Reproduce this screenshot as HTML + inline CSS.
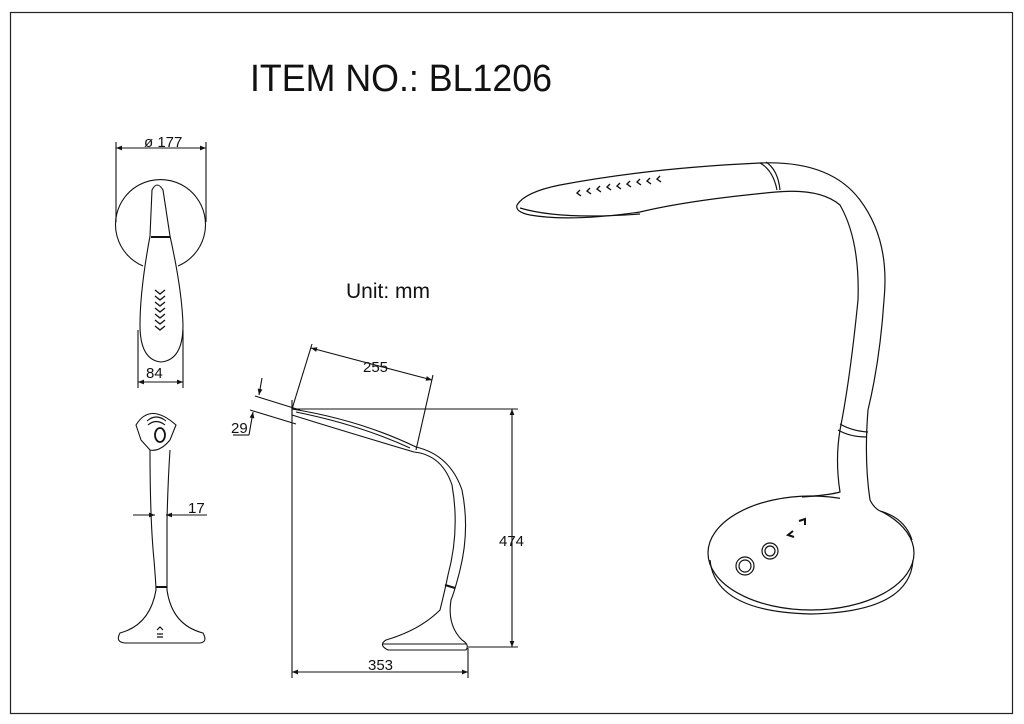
<!DOCTYPE html>
<html><head><meta charset="utf-8"><style>
html,body{margin:0;padding:0;background:#fff;}
svg{display:block;}
text{font-family:"Liberation Sans",sans-serif;fill:#111;}
</style></head><body>
<svg width="1024" height="724" viewBox="0 0 1024 724" xmlns="http://www.w3.org/2000/svg">
<defs>
<marker id="a" viewBox="0 0 10 10" refX="10" refY="5" markerWidth="9" markerHeight="6" orient="auto-start-reverse" markerUnits="userSpaceOnUse"><path d="M0,1 L10,5 L0,9 z" fill="#111"/></marker>
</defs>
<rect x="10.5" y="12.5" width="1002" height="701" fill="none" stroke="#222" stroke-width="1.2"/>
<text x="250" y="91" font-size="38" textLength="302" lengthAdjust="spacingAndGlyphs">ITEM NO.: BL1206</text>
<text x="346" y="298" font-size="21">Unit: mm</text>

<g fill="none" stroke="#111" stroke-width="1.1">
<line x1="116" y1="142" x2="116" y2="222"/><line x1="206" y1="142" x2="206" y2="222"/>
<line x1="116" y1="148" x2="206" y2="148" marker-start="url(#a)" marker-end="url(#a)"/>
<path d="M143,266 A45,45 0 1 1 178,266"/>
<path d="M152,190 Q157,180 163,190 L170,236 Q182,290 183,325 Q183,360 161,362 Q140,360 140,325 Q140,290 150,236 Z"/>
<line x1="151" y1="237" x2="170" y2="237" stroke-width="2"/>
<g stroke-width="1.3">
<path d="M155,290 l5,4 l5,-4 M155,296 l5,4 l5,-4 M155,302 l5,4 l5,-4 M155,308 l5,4 l5,-4 M155,314 l5,4 l5,-4 M155,320 l5,4 l5,-4 M155,326 l5,4 l5,-4"/>
</g>
<line x1="138" y1="330" x2="138" y2="388"/><line x1="183" y1="330" x2="183" y2="388"/>
<line x1="138" y1="382" x2="183" y2="382" marker-start="url(#a)" marker-end="url(#a)"/>

<path d="M136,425 Q150,402 176,425 L170,440 Q160,452 150,450 L141,440 Z"/>
<path d="M147,421 Q156,413 166,421 M148,425 Q156,418 165,425"/>
<ellipse cx="160" cy="435" rx="5" ry="7" stroke-width="1.8"/>
<path d="M150,450 Q150,520 154,560 Q156,585 156,590 Q150,625 120,633 Q115,642 125,643 L200,643 Q208,642 203,633 Q172,625 167,590 Q167,560 167,520 Q168,480 170,450"/>
<line x1="156" y1="587" x2="167" y2="587" stroke-width="2"/>
<path d="M157,630 l3,-3 l3,3 M157,634 h6 M157,637 h6" stroke-width="1.2"/>
<line x1="133" y1="515" x2="155" y2="515" marker-end="url(#a)"/>
<line x1="207" y1="515" x2="166" y2="515" marker-end="url(#a)"/>
<text x="188" y="513" font-size="15" stroke="none">17</text>

<line x1="292" y1="400" x2="292" y2="678"/>
<line x1="292" y1="409" x2="518" y2="409"/>
<line x1="468" y1="647" x2="518" y2="647"/>
<line x1="512" y1="409" x2="512" y2="647" marker-start="url(#a)" marker-end="url(#a)"/>
<line x1="292" y1="672" x2="468" y2="672" marker-start="url(#a)" marker-end="url(#a)"/>
<line x1="468" y1="648" x2="468" y2="678"/>
<line x1="312" y1="344" x2="292" y2="409"/>
<line x1="433" y1="375" x2="416" y2="450"/>
<line x1="311" y1="348" x2="432" y2="380" marker-start="url(#a)" marker-end="url(#a)"/>
<line x1="255" y1="396" x2="300" y2="410"/>
<line x1="250" y1="410" x2="296" y2="424"/>
<line x1="262" y1="378" x2="259" y2="395" marker-end="url(#a)"/>
<line x1="249" y1="435" x2="253" y2="412" marker-end="url(#a)"/>
<line x1="233" y1="435" x2="249" y2="435"/>
<path d="M292,409 Q360,420 416,447 Q450,455 462,490 Q470,530 460,570 Q455,590 451,600 Q447,625 462,640 Q470,645 466,650 L388,650 Q378,645 386,640 Q420,630 440,610 Q445,590 448,575 Q460,530 452,485 Q442,455 414,452 Q340,430 292,415 Z"/>
<path d="M296,412 Q360,425 410,448"/>
<line x1="445" y1="585" x2="455" y2="588" stroke-width="2"/>
<line x1="382" y1="644" x2="466" y2="644"/>
</g>
<text x="363" y="372" font-size="15">255</text>
<text x="231" y="433" font-size="15">29</text>
<text x="499" y="546" font-size="15">474</text>
<text x="368" y="670" font-size="15">353</text>

<g fill="none" stroke="#111" stroke-width="1.2">
<ellipse cx="811" cy="553" rx="103" ry="57"/>
<path d="M710,560 Q715,612 811,614 Q910,612 913,560"/>
<path d="M840,490 L840,500 L878,515 L882,511 L870,499 Z" fill="#fff" stroke="none"/>
<path d="M517,205 Q525,192 560,185 Q650,168 760,163 Q830,160 860,200 Q890,240 884,300 Q880,360 868,410 Q864,460 870,500 Q874,508 880,511"/>
<path d="M880,511 Q905,518 912,540"/>
<path d="M802,497 Q830,495 840,492 Q835,460 840,430 Q850,380 858,300 Q860,240 840,205 Q820,188 776,192 Q690,200 640,212 Q570,222 530,215 Q515,212 517,205"/>
<path d="M760,163 Q773,170 777,190"/>
<path d="M766,162 Q778,170 780,190"/>
<path d="M520,208 Q560,220 640,214"/>
<path d="M838,430 Q850,437 867,437"/>
<path d="M840,424 Q852,431 868,432"/>
<circle cx="745" cy="566" r="9"/><circle cx="745" cy="566" r="6"/>
<circle cx="770" cy="551" r="8"/><circle cx="770" cy="551" r="5"/>
</g>
<g fill="none" stroke="#111" stroke-width="2">
<path d="M793,531 l-5,4 l6,2"/>
<path d="M799,521 l6,-2 l0,6"/>
<path d="M580,190 l-3,3 l4,3 M590,188 l-3,3 l4,3 M600,186 l-3,3 l4,3 M610,184 l-3,3 l4,3 M620,183 l-3,3 l4,3 M630,181 l-3,3 l4,3 M640,179 l-3,3 l4,3 M650,178 l-3,3 l4,3 M660,176 l-3,3 l4,3" stroke-width="1.4"/>
</g>
<text x="144" y="147" font-size="15">ø 177</text>
<text x="146" y="378" font-size="15">84</text>
</svg>
</body></html>
